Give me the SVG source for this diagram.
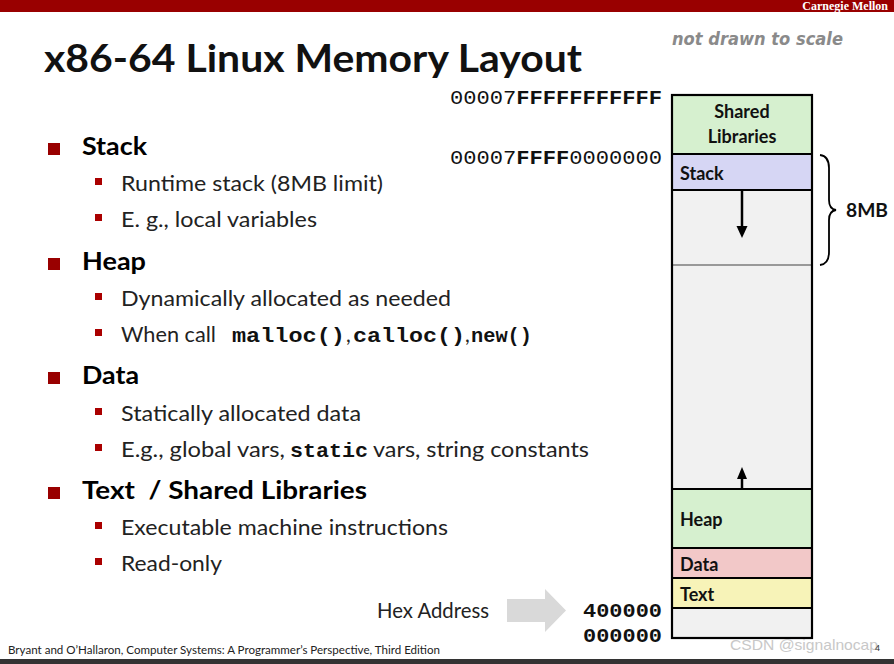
<svg xmlns="http://www.w3.org/2000/svg" width="894" height="664" viewBox="0 0 894 664">
<defs>
<style>
.t{font-family:Lato,"Liberation Sans",sans-serif;fill:#111}
.h{font-family:Lato,"Liberation Sans",sans-serif;font-weight:bold;font-size:25px;fill:#000}
.s{font-family:Lato,"Liberation Sans",sans-serif;font-size:21px;fill:#222}
.m{font-family:"Liberation Mono","Courier New",monospace;font-weight:bold;fill:#111}
.mr{font-family:"Liberation Mono","Courier New",monospace;fill:#111}
.lab{font-family:Lato,"Liberation Sans",sans-serif;font-weight:bold;font-size:18px;fill:#111}
.bb{fill:#990000}
.sb{fill:#aa0000}
.seg{stroke:#000;stroke-width:2.2}
</style>
</defs>
<rect width="894" height="664" fill="#fff"/>
<rect x="0" y="0" width="894" height="12" fill="#990000"/>
<text x="888" y="10" text-anchor="end" font-family="Liberation Serif,serif" font-weight="bold" font-size="12" fill="#fff">Carnegie Mellon</text>
<rect x="0" y="659" width="894" height="5" fill="#333"/>

<text x="44" y="72" class="t" font-weight="bold" font-size="38" textLength="538" lengthAdjust="spacingAndGlyphs" fill="#000">x86-64 Linux Memory Layout</text>
<text x="672" y="45" font-family="DejaVu Sans,sans-serif" font-weight="bold" font-style="italic" font-size="17" fill="#8a8a8a" textLength="171" lengthAdjust="spacingAndGlyphs">not drawn to scale</text>

<g id="bullets">
<rect class="bb" x="48" y="143" width="12" height="12"/>
<text class="h" x="82" y="155" textLength="65" lengthAdjust="spacingAndGlyphs">Stack</text>
<rect class="sb" x="95" y="178" width="7" height="7"/>
<text class="s" x="121" y="191" textLength="262" lengthAdjust="spacingAndGlyphs">Runtime stack (8MB limit)</text>
<rect class="sb" x="95" y="214" width="7" height="7"/>
<text class="s" x="121" y="227" textLength="196" lengthAdjust="spacingAndGlyphs">E. g., local variables</text>

<rect class="bb" x="48" y="258" width="12" height="12"/>
<text class="h" x="82" y="270" textLength="64" lengthAdjust="spacingAndGlyphs">Heap</text>
<rect class="sb" x="95" y="293" width="7" height="7"/>
<text class="s" x="121" y="306" textLength="330" lengthAdjust="spacingAndGlyphs">Dynamically allocated as needed</text>
<rect class="sb" x="95" y="329" width="7" height="7"/>
<text class="s" x="121" y="342" textLength="95" lengthAdjust="spacingAndGlyphs">When call</text>
<text class="m" x="232" y="342" font-size="21" textLength="113" lengthAdjust="spacingAndGlyphs">malloc()</text>
<text class="s" x="346" y="342">,</text>
<text class="m" x="353" y="342" font-size="21" textLength="112" lengthAdjust="spacingAndGlyphs">calloc()</text>
<text class="s" x="465" y="342">,</text>
<text class="m" x="471" y="342" font-size="21" textLength="61" lengthAdjust="spacingAndGlyphs">new()</text>

<rect class="bb" x="48" y="372" width="12" height="12"/>
<text class="h" x="82" y="384" textLength="57" lengthAdjust="spacingAndGlyphs">Data</text>
<rect class="sb" x="95" y="408" width="7" height="7"/>
<text class="s" x="121" y="421" textLength="240" lengthAdjust="spacingAndGlyphs">Statically allocated data</text>
<rect class="sb" x="95" y="444" width="7" height="7"/>
<text class="s" x="121" y="457" textLength="164" lengthAdjust="spacingAndGlyphs">E.g., global vars,</text>
<text class="m" x="290" y="457" font-size="21" textLength="78" lengthAdjust="spacingAndGlyphs">static</text>
<text class="s" x="373" y="457" textLength="216" lengthAdjust="spacingAndGlyphs">vars, string constants</text>

<rect class="bb" x="48" y="487" width="12" height="12"/>
<text class="h" x="82" y="499" textLength="285" lengthAdjust="spacingAndGlyphs" xml:space="preserve">Text  / Shared Libraries</text>
<rect class="sb" x="95" y="522" width="7" height="7"/>
<text class="s" x="121" y="535" textLength="327" lengthAdjust="spacingAndGlyphs">Executable machine instructions</text>
<rect class="sb" x="95" y="558" width="7" height="7"/>
<text class="s" x="121" y="571" textLength="101" lengthAdjust="spacingAndGlyphs">Read-only</text>
</g>

<g id="addresses">
<text x="662" y="104" text-anchor="end" font-size="21" class="mr" textLength="212" lengthAdjust="spacingAndGlyphs">00007<tspan font-weight="bold">FFFFFFFFFFF</tspan></text>
<text x="662" y="164" text-anchor="end" font-size="21" class="mr" textLength="212" lengthAdjust="spacingAndGlyphs">00007<tspan font-weight="bold">FFFF</tspan>0000000</text>
<text x="662" y="617" text-anchor="end" font-size="21" class="m" textLength="79" lengthAdjust="spacingAndGlyphs">400000</text>
<text x="662" y="642" text-anchor="end" font-size="21" class="m" textLength="79" lengthAdjust="spacingAndGlyphs">000000</text>
</g>

<g id="hex-address">
<text x="377" y="618" class="s" font-size="19" textLength="112" lengthAdjust="spacingAndGlyphs" fill="#333">Hex Address</text>
<polygon points="507,599 545,599 545,589 566,610.5 545,632 545,622 507,622" fill="#d9d9d9"/>
</g>

<g id="memory">
<rect id="free" x="672" y="95" width="140" height="543" fill="#f1f1f1"/>
<g id="shared-libraries">
<rect x="672" y="95" width="140" height="59" fill="#d6f0cf"/>
<text class="lab" x="742" y="118" text-anchor="middle">Shared</text>
<text class="lab" x="742" y="143" text-anchor="middle">Libraries</text>
</g>
<g id="stack">
<rect x="672" y="154" width="140" height="36" fill="#d6d6f4"/>
<text class="lab" x="680" y="180">Stack</text>
</g>
<g id="heap">
<rect x="672" y="489" width="140" height="59" fill="#d6f0cf"/>
<text class="lab" x="680" y="526">Heap</text>
</g>
<g id="data">
<rect x="672" y="548" width="140" height="30" fill="#f2c8c8"/>
<text class="lab" x="680" y="571">Data</text>
</g>
<g id="text">
<rect x="672" y="578" width="140" height="30" fill="#f7f3b8"/>
<text class="lab" x="680" y="601">Text</text>
</g>
<line x1="672" y1="265" x2="812" y2="265" stroke="#999" stroke-width="2"/>
<g fill="none">
<line class="seg" x1="672" y1="154" x2="812" y2="154"/>
<line class="seg" x1="672" y1="190" x2="812" y2="190"/>
<line class="seg" x1="672" y1="489" x2="812" y2="489"/>
<line class="seg" x1="672" y1="548" x2="812" y2="548"/>
<line class="seg" x1="672" y1="578" x2="812" y2="578"/>
<line class="seg" x1="672" y1="608" x2="812" y2="608"/>
<rect class="seg" x="672" y="95" width="140" height="543"/>
</g>
</g>

<g id="connectors">
<line x1="742" y1="191" x2="742" y2="228" stroke="#000" stroke-width="2.5"/>
<polygon points="736.5,226 747.5,226 742,238" fill="#000"/>
<line x1="742" y1="489" x2="742" y2="477" stroke="#000" stroke-width="2.5"/>
<polygon points="737,479 747,479 742,467" fill="#000"/>
<path d="M820,155 Q829,156 829,168 L829,200 Q829,209 836,210 Q829,211 829,220 L829,252 Q829,264 820,265" fill="none" stroke="#000" stroke-width="1.8"/>
<text x="846" y="217" font-family="Lato,Liberation Sans,sans-serif" font-weight="bold" font-size="18" fill="#111" textLength="42" lengthAdjust="spacingAndGlyphs">8MB</text>
</g>

<text x="8" y="654" font-family="Lato,Liberation Sans,sans-serif" font-size="11" fill="#222" textLength="432" lengthAdjust="spacingAndGlyphs">Bryant and O’Hallaron, Computer Systems: A Programmer’s Perspective, Third Edition</text>
<text x="730" y="650" font-family="Liberation Sans,sans-serif" font-size="15" fill="#c8c8c8" textLength="148" lengthAdjust="spacingAndGlyphs">CSDN @signalnocap</text>
<text x="875" y="651" font-family="Liberation Sans,sans-serif" font-size="9" fill="#333">4</text>
</svg>
